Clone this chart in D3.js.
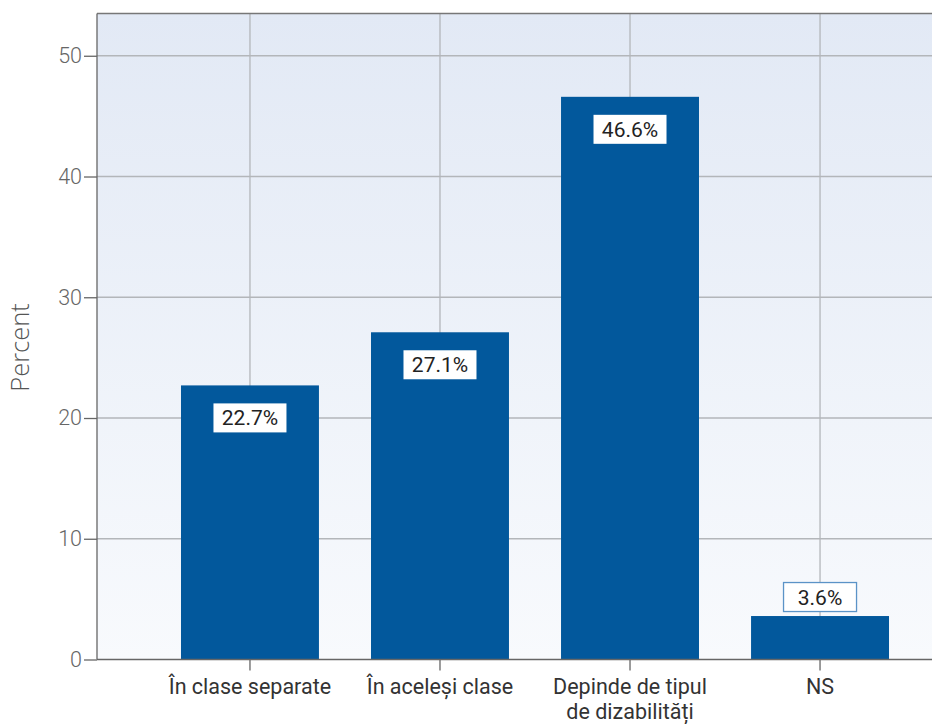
<!DOCTYPE html>
<html><head><meta charset="utf-8">
<script src="https://cdn.jsdelivr.net/npm/d3@7"></script>
<style>body{margin:0;background:#fff}svg{display:block;font-family:Roboto,"Noto Sans",sans-serif}</style>
</head><body><svg id="c" width="932" height="724"></svg>
<script>
const categories = ["În clase separate", "În aceleși clase", "Depinde de tipul\nde dizabilități", "NS"];
const values = [22.7, 27.1, 46.6, 3.6];
const valueLabels = ["22.7%", "27.1%", "46.6%", "3.6%"];
const yTicks = [0, 10, 20, 30, 40, 50];

const svg = d3.select("#c");
const L = 97, T = 13.5, B = 659.5, R = 973;
const y = d3.scaleLinear().domain([0, 53.5]).range([B, T]);
const x = d3.scaleBand().domain(d3.range(categories.length)).range([L, R]).paddingOuter(0.305).paddingInner(0);
const barW = x.bandwidth() * 0.726;
const cx = i => x(i) + x.bandwidth() / 2;

const defs = svg.append("defs");
const g = defs.append("linearGradient").attr("id", "bg").attr("x1", 0).attr("y1", 0).attr("x2", 0).attr("y2", 1);
g.append("stop").attr("offset", 0).attr("stop-color", "#e2e9f5");
g.append("stop").attr("offset", 1).attr("stop-color", "#f8fafd");

svg.append("rect").attr("x", L).attr("y", T).attr("width", R - L).attr("height", B - T).attr("fill", "url(#bg)");

// grid
svg.append("g").selectAll("line").data(yTicks.filter(d => d > 0)).join("line")
  .attr("x1", L).attr("x2", R).attr("y1", d => y(d)).attr("y2", d => y(d))
  .attr("stroke", "#b3b6ba").attr("stroke-width", 1.3);
svg.append("g").selectAll("line").data(d3.range(categories.length)).join("line")
  .attr("x1", cx).attr("x2", cx).attr("y1", T).attr("y2", B)
  .attr("stroke", "#b3b6ba").attr("stroke-width", 1.3);

// border top
svg.append("line").attr("x1", L).attr("x2", R).attr("y1", T).attr("y2", T).attr("stroke", "#777").attr("stroke-width", 1.3);

// bars
svg.append("g").selectAll("rect").data(values).join("rect")
  .attr("x", (d, i) => cx(i) - barW / 2).attr("width", barW)
  .attr("y", d => y(d)).attr("height", d => B - y(d))
  .attr("fill", "#02589c");

// axes
const yAxis = d3.axisLeft(y).tickValues(yTicks).tickSize(13).tickPadding(2);
const ya = svg.append("g").attr("transform", `translate(${L},0)`).call(yAxis);
ya.select(".domain").attr("stroke", "#666").attr("stroke-width", 1.3).attr("d", `M-0,${T}V${B}`);
ya.selectAll(".tick line").attr("stroke", "#666").attr("stroke-width", 1.3);
ya.selectAll(".tick text").attr("fill", "#666").attr("font-size", 21.5).attr("font-weight", 300).attr("font-family", "Roboto");

const xa = svg.append("g").attr("transform", `translate(0,${B})`);
xa.append("line").attr("x1", L).attr("x2", R).attr("stroke", "#666").attr("stroke-width", 1.3);
xa.selectAll("line.t").data(d3.range(categories.length)).join("line").attr("class", "t")
  .attr("x1", cx).attr("x2", cx).attr("y1", 0).attr("y2", 11).attr("stroke", "#666").attr("stroke-width", 1.3);
xa.selectAll("text").data(categories).join("text")
  .attr("text-anchor", "middle").attr("fill", "#333").attr("font-size", 21.5)
  .each(function (d, i) {
    const lines = d.split("\n");
    d3.select(this).selectAll("tspan").data(lines).join("tspan")
      .attr("x", cx(i)).attr("y", (l, j) => 34 + j * 25).text(l => l);
  });

// y label
svg.append("text").attr("transform", `translate(29,347.5) rotate(-90)`)
  .attr("text-anchor", "middle").attr("fill", "#555").attr("font-size", 25.5)
  .attr("font-family", "'Open Sans', sans-serif").attr("font-weight", 300).text("Percent");

// value labels
const bw = 73, bh = 29;
const lab = svg.append("g").selectAll("g").data(values).join("g")
  .attr("transform", (d, i) => {
    const inside = d > 10;
    const top = inside ? y(d) + 18 : y(d) - 4.5 - bh;
    return `translate(${cx(i)},${top})`;
  });
lab.append("rect").attr("x", -bw / 2).attr("y", 0).attr("width", bw).attr("height", bh)
  .attr("fill", "#fff").attr("stroke", d => d > 10 ? "none" : "#5b93c7").attr("stroke-width", 1.3);
lab.append("text").attr("x", 0).attr("y", bh / 2 + 7.5).attr("text-anchor", "middle")
  .attr("fill", "#222").attr("font-size", 21).text((d, i) => valueLabels[i]);
</script></body></html>
